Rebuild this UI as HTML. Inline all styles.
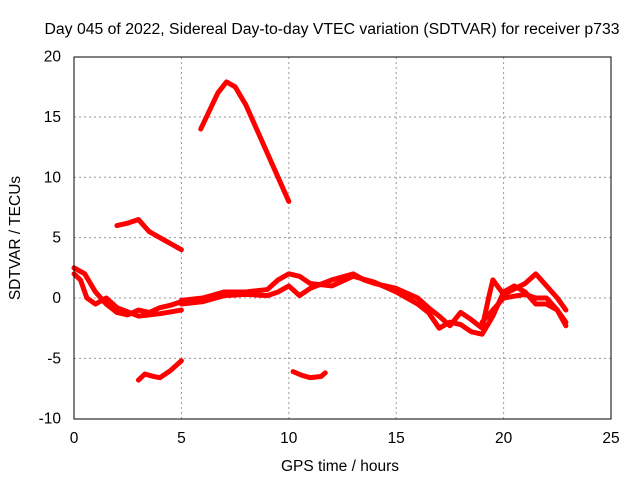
<!DOCTYPE html>
<html><head><meta charset="utf-8"><style>
body{margin:0;background:#fff}
svg{font-family:"Liberation Sans",sans-serif;font-size:15.5px}
</style></head><body>
<svg width="640" height="480">
<text x="332" y="34" text-anchor="middle" textLength="575" lengthAdjust="spacingAndGlyphs">Day 045 of 2022, Sidereal Day-to-day VTEC variation (SDTVAR) for receiver p733</text>
<g id="grid"></g>
<g id="ticks"></g>
<g id="marks"></g>
<rect x="74" y="57" width="537" height="362" fill="none" stroke="#000"/>
<text x="340" y="471" text-anchor="middle">GPS time / hours</text>
<text transform="translate(20,238) rotate(-90)" text-anchor="middle">SDTVAR / TECUs</text>
</svg>
<script>
const xTicks=[0,5,10,15,20,25];
const yTicks=[-10,-5,0,5,10,15,20];
const seriesA_t=[5.9,6.3,6.7,7.1,7.5,8,8.5,9,9.5,10];
const seriesA_v=[14,15.5,17,17.9,17.5,16,14,12,10,8];
const seriesB_t=[2,2.5,3,3.5,4,4.5,5];
const seriesB_v=[6,6.2,6.5,5.5,5,4.5,4];
const seriesC_t=[3,3.3,3.7,4,4.5,5];
const seriesC_v=[-6.8,-6.3,-6.5,-6.6,-6,-5.2];
const seriesD_t=[10.2,10.6,11,11.5,11.7];
const seriesD_v=[-6.1,-6.4,-6.6,-6.5,-6.2];
const seriesE_t=[0,0.5,1,1.5,2,2.5,3,3.5,4,4.5,5];
const seriesE_v=[2.5,2,0.5,-0.5,-1.2,-1.4,-1,-1.2,-0.8,-0.6,-0.3];
const seriesF_t=[0,0.3,0.6,1,1.5,2,3,4,5];
const seriesF_v=[2,1.5,0,-0.5,0,-0.8,-1.5,-1.3,-1];
const seriesG_t=[5,6,7,8,9,9.5,10,10.5,11,12,13,14,15,16,16.5,17,17.5,18,18.5,19,19.5,20,20.5,21,21.5,22,22.5,22.9];
const seriesG_v=[-0.2,0,0.5,0.5,0.7,1.5,2,1.8,1.2,1,1.8,1.3,0.5,-0.5,-1.2,-2.5,-2,-2.2,-2.8,-3,-1.5,0.5,1,0.5,-0.5,-0.5,-1,-2];
const seriesH_t=[5,6,7,8,9,9.5,10,10.5,11,12,13,13.5,14,15,16,16.5,17,17.5,18,18.5,19,19.3,19.5,20,21,21.5,22,22.5,22.9];
const seriesH_v=[-0.5,-0.3,0.2,0.3,0.2,0.5,1,0.2,0.8,1.5,2,1.5,1.2,0.8,0,-0.8,-1.5,-2.3,-1.2,-1.8,-2.5,0,1.5,0.3,1.2,2,1,0,-1];
const seriesI_t=[19,19.5,20,21,21.5,22,22.5,22.9];
const seriesI_v=[-2,-1,0,0.3,0,0,-1,-2.3];
const X=t=>74+t*537/25, Y=v=>298-v*12.07;
const NS="http://www.w3.org/2000/svg";
const grid=document.getElementById('grid'),ticks=document.getElementById('ticks'),marks=document.getElementById('marks');
function mk(tag,at,par){const e=document.createElementNS(NS,tag);for(const k in at)e.setAttribute(k,at[k]);par.appendChild(e);return e;}
xTicks.forEach(t=>{
 if(t>0&&t<25){const g=mk('line',{x1:X(t),x2:X(t),y1:57,y2:419,stroke:'#999','stroke-dasharray':'2,3'},grid);
 
 }
 const l=mk('text',{x:X(t),y:443,'text-anchor':'middle'},ticks);l.textContent=t;
 
 
});
yTicks.forEach(v=>{
 if(v>-10&&v<20){const g=mk('line',{x1:74,x2:611,y1:Y(v),y2:Y(v),stroke:'#999','stroke-dasharray':'2,3'},grid);
 
 }
 const l=mk('text',{x:61,y:Y(v)+5,'text-anchor':'end'},ticks);l.textContent=v;
 
 
});
const all=[[seriesA_t,seriesA_v],[seriesB_t,seriesB_v],[seriesC_t,seriesC_v],[seriesD_t,seriesD_v],[seriesE_t,seriesE_v],[seriesF_t,seriesF_v],[seriesG_t,seriesG_v],[seriesH_t,seriesH_v],[seriesI_t,seriesI_v]];
all.forEach(([ts,vs],i)=>{
 const p=mk('polyline',{points:ts.map((t,j)=>X(t)+','+Y(vs[j])).join(' '),fill:'none',stroke:'#f00','stroke-width':5,'stroke-linejoin':'round','stroke-linecap':'round'},marks);
 
 
});
</script>
</body></html>
